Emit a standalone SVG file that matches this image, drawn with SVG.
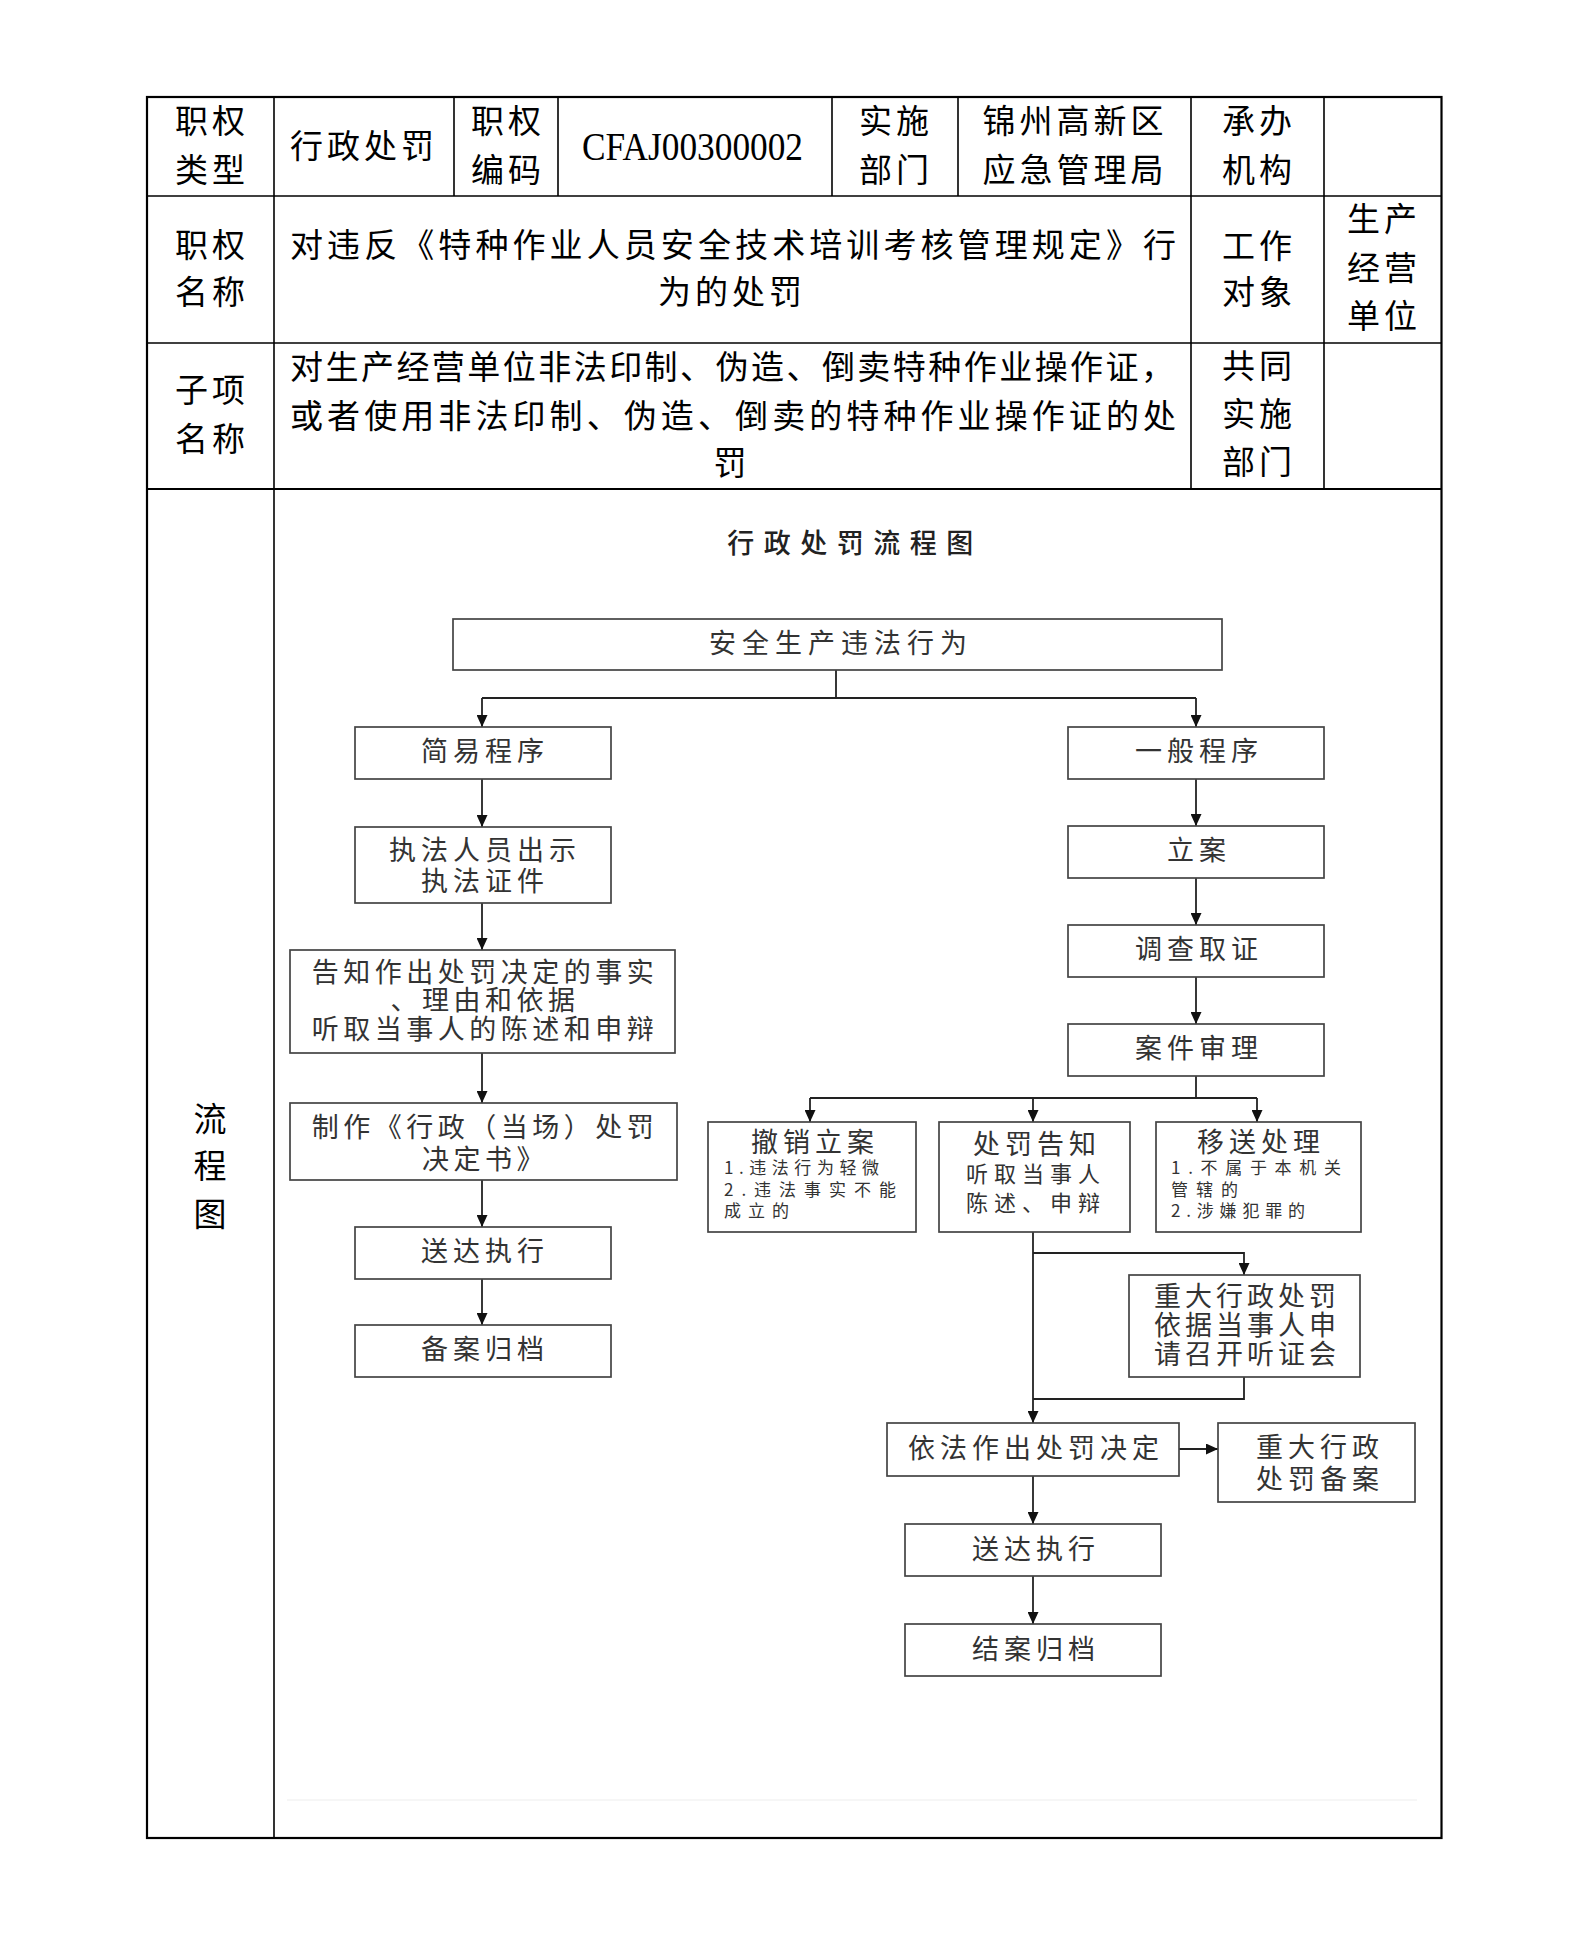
<svg xmlns="http://www.w3.org/2000/svg" width="1587" height="1936" viewBox="0 0 1587 1936">
<style>
text{font-family:"Noto Sans CJK SC","Noto Sans",sans-serif;dominant-baseline:central}
.t{font-size:33px;fill:#000;letter-spacing:4px;text-anchor:middle}
.tj{font-size:33px;fill:#000;text-anchor:start}
.lat{font-family:"Liberation Serif",serif;font-size:40px;fill:#000;dominant-baseline:alphabetic}
.f{font-size:27px;fill:#333;letter-spacing:5px;text-anchor:middle}
.fs{font-size:17px;fill:#333;text-anchor:start}
.fm{font-size:22px;fill:#333;text-anchor:start}
.ttl{font-size:27px;fill:#222;letter-spacing:9.5px;text-anchor:middle;font-weight:500}
.grid{stroke:#000;stroke-width:1.6;fill:none}
.outer{stroke:#000;stroke-width:2.2;fill:none}
.box{fill:#fff;stroke:#444;stroke-width:1.7}
.conn{stroke:#222;stroke-width:1.8;fill:none}
</style>
<defs>
<marker id="arr" viewBox="0 0 12 11" refX="12" refY="5.5" markerWidth="12" markerHeight="11" markerUnits="userSpaceOnUse" orient="auto">
<path d="M0,0 L12,5.5 L0,11 z" fill="#111"/>
</marker>
</defs>
<rect width="1587" height="1936" fill="#fff"/>

<!-- table grid -->
<g id="table">
<rect class="outer" x="147" y="97" width="1294.5" height="1741"/>
<line class="grid" x1="147" y1="196" x2="1441.5" y2="196"/>
<line class="grid" x1="147" y1="343" x2="1441.5" y2="343"/>
<line class="outer" x1="147" y1="489" x2="1441.5" y2="489"/>
<line class="grid" x1="274" y1="97" x2="274" y2="1838"/>
<line class="grid" x1="454" y1="97" x2="454" y2="196"/>
<line class="grid" x1="558" y1="97" x2="558" y2="196"/>
<line class="grid" x1="832" y1="97" x2="832" y2="196"/>
<line class="grid" x1="958" y1="97" x2="958" y2="196"/>
<line class="grid" x1="1191" y1="97" x2="1191" y2="489"/>
<line class="grid" x1="1324" y1="97" x2="1324" y2="489"/>
<line x1="287" y1="1800" x2="1417" y2="1800" stroke="#eeeeee" stroke-width="1.2"/>
</g>

<!-- table texts -->
<g id="cell-type-label"><text class="t" x="212" y="119">职权</text><text class="t" x="212" y="168">类型</text></g>
<g id="cell-type"><text class="t" x="364" y="144">行政处罚</text></g>
<g id="cell-code-label"><text class="t" x="508" y="119">职权</text><text class="t" x="508" y="168">编码</text></g>
<g id="cell-code"><text class="lat" x="582" y="160" textLength="221" lengthAdjust="spacingAndGlyphs">CFAJ00300002</text></g>
<g id="cell-dept-label"><text class="t" x="896" y="119">实施</text><text class="t" x="896" y="168">部门</text></g>
<g id="cell-dept"><text class="t" x="1075" y="119">锦州高新区</text><text class="t" x="1075" y="168">应急管理局</text></g>
<g id="cell-org-label"><text class="t" x="1259" y="119">承办</text><text class="t" x="1259" y="168">机构</text></g>

<g id="cell-name-label"><text class="t" x="212" y="243">职权</text><text class="t" x="212" y="290">名称</text></g>
<g id="cell-name"><text class="tj" x="290" y="243" textLength="886" lengthAdjust="spacing">对违反《特种作业人员安全技术培训考核管理规定》行</text><text class="t" x="732" y="290">为的处罚</text></g>
<g id="cell-target-label"><text class="t" x="1259" y="244">工作</text><text class="t" x="1259" y="290">对象</text></g>
<g id="cell-target"><text class="t" x="1384" y="217">生产</text><text class="t" x="1384" y="266">经营</text><text class="t" x="1384" y="314">单位</text></g>

<g id="cell-sub-label"><text class="t" x="212" y="388">子项</text><text class="t" x="212" y="437">名称</text></g>
<g id="cell-sub"><text class="tj" x="290" y="365" textLength="884" lengthAdjust="spacing">对生产经营单位非法印制、伪造、倒卖特种作业操作证，</text><text class="tj" x="290" y="414" textLength="886" lengthAdjust="spacing">或者使用非法印制、伪造、倒卖的特种作业操作证的处</text><text class="t" x="732" y="461">罚</text></g>
<g id="cell-co-label"><text class="t" x="1259" y="364">共同</text><text class="t" x="1259" y="412">实施</text><text class="t" x="1259" y="460">部门</text></g>

<g id="cell-flow-label"><text class="t" x="212" y="1117">流</text><text class="t" x="212" y="1164">程</text><text class="t" x="212" y="1212">图</text></g>

<g id="flow-title"><text class="ttl" x="855" y="541">行政处罚流程图</text></g>

<!-- connectors -->
<g id="connectors">
<path class="conn" d="M836,670 V698"/>
<path class="conn" d="M482,698 H1196"/>
<path class="conn" d="M482,698 V727" marker-end="url(#arr)"/>
<path class="conn" d="M1196,698 V727" marker-end="url(#arr)"/>
<path class="conn" d="M482,779 V827" marker-end="url(#arr)"/>
<path class="conn" d="M482,903 V950" marker-end="url(#arr)"/>
<path class="conn" d="M482,1053 V1103" marker-end="url(#arr)"/>
<path class="conn" d="M482,1180 V1227" marker-end="url(#arr)"/>
<path class="conn" d="M482,1279 V1325" marker-end="url(#arr)"/>
<path class="conn" d="M1196,779 V826" marker-end="url(#arr)"/>
<path class="conn" d="M1196,878 V925" marker-end="url(#arr)"/>
<path class="conn" d="M1196,977 V1024" marker-end="url(#arr)"/>
<path class="conn" d="M1196,1076 V1098"/>
<path class="conn" d="M810,1098 H1257"/>
<path class="conn" d="M810,1098 V1122" marker-end="url(#arr)"/>
<path class="conn" d="M1033,1098 V1122" marker-end="url(#arr)"/>
<path class="conn" d="M1257,1098 V1122" marker-end="url(#arr)"/>
<path class="conn" d="M1033,1232 V1423" marker-end="url(#arr)"/>
<path class="conn" d="M1033,1253 H1244 V1275" marker-end="url(#arr)"/>
<path class="conn" d="M1244,1377 V1399 H1033"/>
<path class="conn" d="M1179,1449 H1218" marker-end="url(#arr)"/>
<path class="conn" d="M1033,1476 V1524" marker-end="url(#arr)"/>
<path class="conn" d="M1033,1576 V1624" marker-end="url(#arr)"/>
</g>

<!-- nodes -->
<g id="n-start"><rect class="box" x="453" y="619" width="769" height="51"/><text class="f" x="841" y="641" style="letter-spacing:6px">安全生产违法行为</text></g>
<g id="n-simple"><rect class="box" x="355" y="727" width="256" height="52"/><text class="f" x="485" y="749">简易程序</text></g>
<g id="n-show"><rect class="box" x="355" y="827" width="256" height="76"/><text class="f" x="485" y="848">执法人员出示</text><text class="f" x="485" y="879">执法证件</text></g>
<g id="n-inform"><rect class="box" x="290" y="950" width="385" height="103"/><text class="f" x="485" y="970" style="letter-spacing:4.5px">告知作出处罚决定的事实</text><text class="f" x="485" y="998" style="letter-spacing:4.5px">、理由和依据</text><text class="f" x="485" y="1027" style="letter-spacing:4.5px">听取当事人的陈述和申辩</text></g>
<g id="n-make"><rect class="box" x="290" y="1103" width="387" height="77"/><text class="f" x="485" y="1125" style="letter-spacing:4.5px">制作《行政（当场）处罚</text><text class="f" x="485" y="1157" style="letter-spacing:4.5px">决定书》</text></g>
<g id="n-deliver1"><rect class="box" x="355" y="1227" width="256" height="52"/><text class="f" x="485" y="1249">送达执行</text></g>
<g id="n-archive1"><rect class="box" x="355" y="1325" width="256" height="52"/><text class="f" x="485" y="1347">备案归档</text></g>

<g id="n-general"><rect class="box" x="1068" y="727" width="256" height="52"/><text class="f" x="1199" y="749">一般程序</text></g>
<g id="n-file"><rect class="box" x="1068" y="826" width="256" height="52"/><text class="f" x="1199" y="848">立案</text></g>
<g id="n-investigate"><rect class="box" x="1068" y="925" width="256" height="52"/><text class="f" x="1199" y="947">调查取证</text></g>
<g id="n-review"><rect class="box" x="1068" y="1024" width="256" height="52"/><text class="f" x="1199" y="1046">案件审理</text></g>

<g id="n-revoke"><rect class="box" x="708" y="1122" width="208" height="110"/><text class="f" x="815" y="1140">撤销立案</text><text class="fs" x="724" y="1166" textLength="155" lengthAdjust="spacing">1.违法行为轻微</text><text class="fs" x="724" y="1188" textLength="172" lengthAdjust="spacing">2.违法事实不能</text><text class="fs" x="724" y="1209" textLength="65" lengthAdjust="spacing">成立的</text></g>
<g id="n-notice"><rect class="box" x="939" y="1122" width="191" height="110"/><text class="f" x="1037" y="1142">处罚告知</text><text class="fm" x="966" y="1172" textLength="134" lengthAdjust="spacing">听取当事人</text><text class="fm" x="966" y="1201" textLength="134" lengthAdjust="spacing">陈述、申辩</text></g>
<g id="n-transfer"><rect class="box" x="1156" y="1122" width="205" height="110"/><text class="f" x="1261" y="1140">移送处理</text><text class="fs" x="1171" y="1166" textLength="170" lengthAdjust="spacing">1.不属于本机关</text><text class="fs" x="1171" y="1188" textLength="67" lengthAdjust="spacing">管辖的</text><text class="fs" x="1171" y="1209" textLength="134" lengthAdjust="spacing">2.涉嫌犯罪的</text></g>

<g id="n-hearing"><rect class="box" x="1129" y="1275" width="231" height="102"/><text class="f" x="1247" y="1294" style="letter-spacing:4px">重大行政处罚</text><text class="f" x="1247" y="1323" style="letter-spacing:4px">依据当事人申</text><text class="f" x="1247" y="1352" style="letter-spacing:4px">请召开听证会</text></g>
<g id="n-decide"><rect class="box" x="887" y="1423" width="292" height="53"/><text class="f" x="1036" y="1446">依法作出处罚决定</text></g>
<g id="n-record"><rect class="box" x="1218" y="1423" width="197" height="79"/><text class="f" x="1320" y="1445">重大行政</text><text class="f" x="1320" y="1477">处罚备案</text></g>
<g id="n-deliver2"><rect class="box" x="905" y="1524" width="256" height="52"/><text class="f" x="1036" y="1547">送达执行</text></g>
<g id="n-archive2"><rect class="box" x="905" y="1624" width="256" height="52"/><text class="f" x="1036" y="1647">结案归档</text></g>
</svg>
